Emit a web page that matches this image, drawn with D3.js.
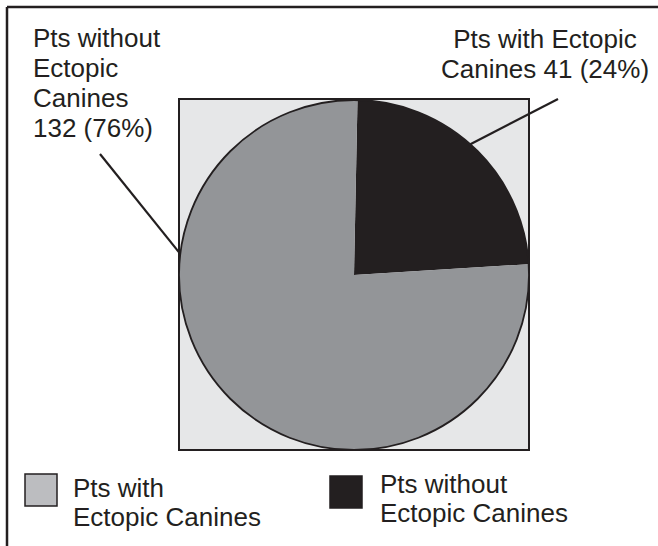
<!DOCTYPE html>
<html>
<head>
<meta charset="utf-8">
<script src="https://cdn.jsdelivr.net/npm/d3@7/dist/d3.min.js"></script>
<style>
  html, body { margin: 0; padding: 0; background: #ffffff; }
  svg { display: block; }
  text { font-family: "Liberation Sans", Arial, sans-serif; fill: #231f20; }
</style>
</head>
<body>
<svg id="chart" width="658" height="546"></svg>
<script>
// Patient groups and counts
const categories = ["Pts with Ectopic Canines", "Pts without Ectopic Canines"];
const counts = [41, 132];
const percents = [24, 76];
const sliceColors = ["#231f20", "#939598"];

// Callout labels (lines of text) for each slice
const calloutLines = [
  ["Pts with Ectopic", "Canines 41 (24%)"],
  ["Pts without", "Ectopic", "Canines", "132 (76%)"]
];

// Legend entries (as printed on the figure)
const legendLabels = [["Pts with", "Ectopic Canines"], ["Pts without", "Ectopic Canines"]];
const legendColors = ["#bcbdc0", "#231f20"];

const W = 658, H = 546;
const svg = d3.select("#chart");
const ink = "#231f20";

// Frame: top and left rules only
svg.append("line").attr("x1", 7).attr("y1", 7).attr("x2", W).attr("y2", 7)
  .attr("stroke", ink).attr("stroke-width", 2.5);
svg.append("line").attr("x1", 7).attr("y1", 7).attr("x2", 7).attr("y2", H)
  .attr("stroke", ink).attr("stroke-width", 2.5);

// Plot square
const cx = 354, cy = 275, r = 175;
svg.append("rect")
  .attr("x", cx - r).attr("y", cy - r - 1).attr("width", 2 * r).attr("height", 2 * r + 1)
  .attr("fill", "#e6e7e8").attr("stroke", ink).attr("stroke-width", 2);

// Pie
const pie = d3.pie().sort(null).startAngle(0.02).endAngle(0.02 + 2 * Math.PI);
const arcs = pie(counts);
const arc = d3.arc().innerRadius(0).outerRadius(r);
const g = svg.append("g").attr("transform", `translate(${cx},${cy})`);
g.selectAll("path.slice").data(arcs).enter().append("path")
  .attr("class", "slice")
  .attr("d", arc)
  .attr("fill", (d, i) => sliceColors[i]);
g.append("circle").attr("r", r).attr("fill", "none").attr("stroke", ink).attr("stroke-width", 1.8);

// Leader lines from the callouts to the slice edges
const edgePoint = (angle) => [cx + r * Math.sin(angle), cy - r * Math.cos(angle)];
const a0 = arcs[0].startAngle + (arcs[0].endAngle - arcs[0].startAngle) * 0.475;
const p0 = edgePoint(a0);
svg.append("line").attr("x1", 558).attr("y1", 99).attr("x2", p0[0]).attr("y2", p0[1])
  .attr("stroke", ink).attr("stroke-width", 2.2);
const a1 = 2 * Math.PI - 1.45;
const p1 = edgePoint(a1);
svg.append("line").attr("x1", 100).attr("y1", 154).attr("x2", p1[0]).attr("y2", p1[1])
  .attr("stroke", ink).attr("stroke-width", 2.2);

// Callout text
const fs = 26;
const rightLabel = svg.append("text").attr("text-anchor", "middle").attr("font-size", fs);
calloutLines[0].forEach((t, i) => {
  rightLabel.append("tspan").attr("x", 545).attr("y", 48 + i * 30).text(t);
});
const leftLabel = svg.append("text").attr("text-anchor", "start").attr("font-size", fs);
calloutLines[1].forEach((t, i) => {
  leftLabel.append("tspan").attr("x", 33).attr("y", 47 + i * 30).text(t);
});

// Legend
const legendPos = [{x: 25, y: 474, tx: 73, ty: 497}, {x: 330, y: 476, tx: 380, ty: 493}];
legendLabels.forEach((lines, i) => {
  const p = legendPos[i];
  svg.append("rect").attr("x", p.x).attr("y", p.y).attr("width", 32).attr("height", 32)
    .attr("fill", legendColors[i]).attr("stroke", ink).attr("stroke-width", 1.5);
  const t = svg.append("text").attr("font-size", fs);
  lines.forEach((s, j) => {
    t.append("tspan").attr("x", p.tx).attr("y", p.ty + j * 29).text(s);
  });
});
</script>
</body>
</html>
